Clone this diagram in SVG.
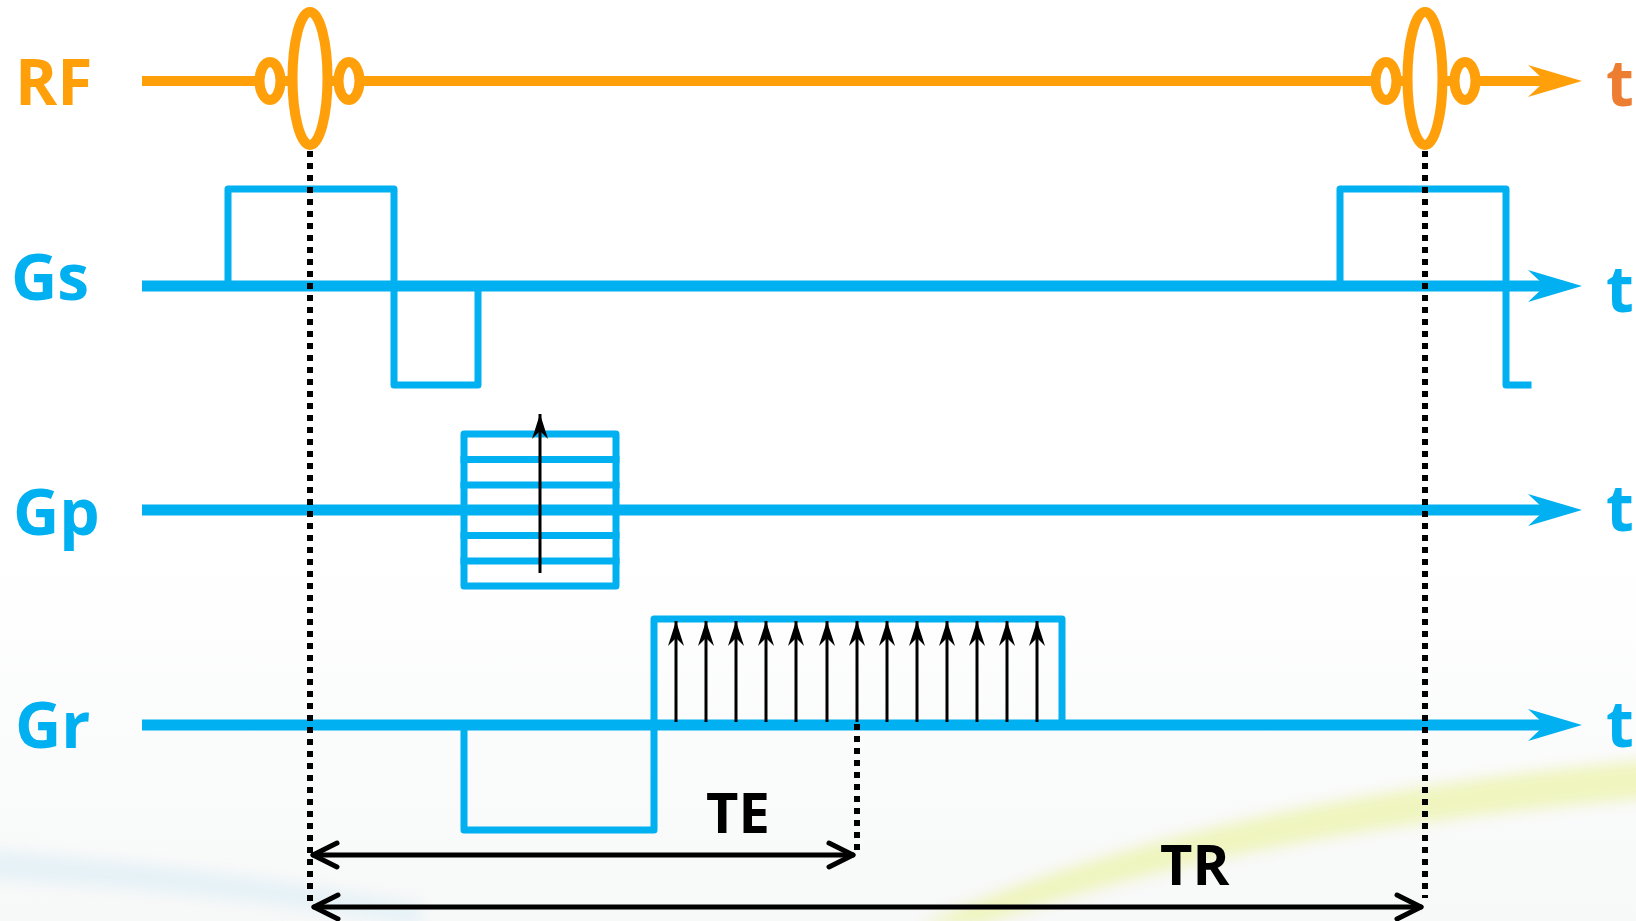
<svg xmlns="http://www.w3.org/2000/svg" xmlns:xlink="http://www.w3.org/1999/xlink" width="1636" height="921" viewBox="0 0 1636 921">
  <style>
    .lbl { font-family: "Open Sans", "Noto Sans", "Liberation Sans", sans-serif; font-weight: 700; font-size: 64px; }
    .dim { font-family: "Open Sans", "Noto Sans", "Liberation Sans", sans-serif; font-weight: 700; font-size: 56px; fill: #000; }
    .orange { fill: #FFA00A; }
    .tOrange { fill: #ED7D31; }
    .blue { fill: #00B0F0; }
    .axisO { stroke: #FFA00A; stroke-width: 10; fill: none; }
    .axisB { stroke: #00B0F0; stroke-width: 11; fill: none; }
    .pulse { stroke: #00B0F0; stroke-width: 7; fill: none; stroke-linejoin: round; stroke-linecap: square; }
    .rfpulse { stroke: #FFA00A; stroke-width: 10; fill: #fff; }
    .dot { stroke: #000; stroke-width: 6; stroke-dasharray: 6 6; fill: none; }
    .kline { stroke: #000; stroke-width: 3; fill: none; }
    .span { stroke: #000; stroke-width: 5; fill: none; stroke-linecap: round; stroke-linejoin: round; }
  </style>
  <defs>
    <!-- notched arrowhead for the time axes, tip at origin -->
    <path id="axisHead" d="M-54,-16 L0,0 L-54,16 L-37,0 Z"/>
    <marker id="kHead" markerUnits="userSpaceOnUse" markerWidth="26" markerHeight="18" viewBox="-25 -9 26 18" refX="0" refY="0" orient="auto">
      <path d="M-25,-8 L0,0 L-25,8 L-17,0 Z" fill="#000"/>
    </marker>
    <filter id="soft" x="-20%" y="-50%" width="140%" height="200%">
      <feGaussianBlur stdDeviation="7"/>
    </filter>
    <linearGradient id="bg" x1="0" y1="0" x2="0" y2="1">
      <stop offset="0" stop-color="#FFFFFF"/>
      <stop offset="0.6" stop-color="#FFFFFF"/>
      <stop offset="1" stop-color="#F7F8F8"/>
    </linearGradient>
  </defs>

  <!-- page background with faint swooshes -->
  <rect x="0" y="0" width="1636" height="921" fill="url(#bg)"/>
  <g filter="url(#soft)">
    <path d="M-20,850 Q200,865 420,905 L420,925 Q200,890 -20,878 Z" fill="#E3F1F6" opacity="0.9"/>
    <path d="M920,925 Q1200,800 1650,760 L1650,798 Q1250,830 980,925 Z" fill="#EEF4B8" opacity="0.9"/>
  </g>

  <!-- RF row -->
  <g id="row-rf">
    <text class="lbl orange" x="15" y="105">RF</text>
    <line class="axisO" x1="142" y1="81" x2="1550" y2="81"/>
    <use xlink:href="#axisHead" x="1582" y="81" class="orange"/>
    <ellipse class="rfpulse" cx="270" cy="81" rx="10.5" ry="19"/>
    <ellipse class="rfpulse" cx="349" cy="81" rx="10.5" ry="19"/>
    <ellipse class="rfpulse" cx="310" cy="78.5" rx="17.5" ry="66.5"/>
    <ellipse class="rfpulse" cx="1386" cy="81" rx="10.5" ry="19"/>
    <ellipse class="rfpulse" cx="1465" cy="81" rx="10.5" ry="19"/>
    <ellipse class="rfpulse" cx="1425" cy="78.5" rx="17.5" ry="66.5"/>
    <text class="lbl tOrange" x="1606" y="106">t</text>
  </g>

  <!-- Gs row: slice-select gradient -->
  <g id="row-gs">
    <text class="lbl blue" x="11" y="300">Gs</text>
    <line class="axisB" x1="142" y1="286" x2="1550" y2="286"/>
    <use xlink:href="#axisHead" x="1582" y="286" class="blue"/>
    <path class="pulse" d="M228,286 V189 H394 V385 H478 V286"/>
    <path class="pulse" d="M1340,286 V189 H1506 V385 H1528"/>
    <text class="lbl blue" x="1606" y="312">t</text>
  </g>

  <!-- Gp row: phase-encoding table -->
  <g id="row-gp">
    <text class="lbl blue" x="13" y="535">Gp</text>
    <line class="axisB" x1="142" y1="510" x2="1550" y2="510"/>
    <use xlink:href="#axisHead" x="1582" y="510" class="blue"/>
    <rect class="pulse" x="464" y="434" width="152" height="152"/>
    <path class="pulse" d="M464,459.5 H616 M464,485 H616 M464,535.5 H616 M464,561 H616"/>
    <line class="kline" x1="540" y1="573" x2="540" y2="414" marker-end="url(#kHead)"/>
    <text class="lbl blue" x="1606" y="531">t</text>
  </g>

  <!-- Gr row: readout gradient with sampling -->
  <g id="row-gr">
    <text class="lbl blue" x="15" y="748">Gr</text>
    <line class="axisB" x1="142" y1="725" x2="1550" y2="725"/>
    <use xlink:href="#axisHead" x="1582" y="725" class="blue"/>
    <path class="pulse" d="M464,725 V830 H654 V619 H1062 V725"/>
    <g id="samples">
      <line class="kline" x1="676" y1="722" x2="676" y2="621" marker-end="url(#kHead)"/>
      <line class="kline" x1="706" y1="722" x2="706" y2="621" marker-end="url(#kHead)"/>
      <line class="kline" x1="736" y1="722" x2="736" y2="621" marker-end="url(#kHead)"/>
      <line class="kline" x1="766" y1="722" x2="766" y2="621" marker-end="url(#kHead)"/>
      <line class="kline" x1="796" y1="722" x2="796" y2="621" marker-end="url(#kHead)"/>
      <line class="kline" x1="827" y1="722" x2="827" y2="621" marker-end="url(#kHead)"/>
      <line class="kline" x1="857" y1="722" x2="857" y2="621" marker-end="url(#kHead)"/>
      <line class="kline" x1="887" y1="722" x2="887" y2="621" marker-end="url(#kHead)"/>
      <line class="kline" x1="917" y1="722" x2="917" y2="621" marker-end="url(#kHead)"/>
      <line class="kline" x1="947" y1="722" x2="947" y2="621" marker-end="url(#kHead)"/>
      <line class="kline" x1="977" y1="722" x2="977" y2="621" marker-end="url(#kHead)"/>
      <line class="kline" x1="1007" y1="722" x2="1007" y2="621" marker-end="url(#kHead)"/>
      <line class="kline" x1="1037" y1="722" x2="1037" y2="621" marker-end="url(#kHead)"/>
    </g>
    <text class="lbl blue" x="1606" y="747">t</text>
  </g>

  <!-- timing guides and TE / TR spans -->
  <g id="connectors">
    <line class="dot" x1="310" y1="151" x2="310" y2="902"/>
    <line class="dot" x1="1425" y1="151" x2="1425" y2="898"/>
    <line class="dot" x1="857" y1="724" x2="857" y2="856"/>
    <line class="span" x1="313" y1="855" x2="853" y2="855"/>
    <polyline class="span" points="337,843 313,855 337,867"/>
    <polyline class="span" points="829,843 853,855 829,867"/>
    <line class="span" x1="314" y1="907" x2="1421" y2="907"/>
    <polyline class="span" points="338,895 314,907 338,919"/>
    <polyline class="span" points="1397,895 1421,907 1397,919"/>
  </g>

  <g id="label-te"><text class="dim" x="706" y="833">TE</text></g>
  <g id="label-tr"><text class="dim" x="1160" y="885">TR</text></g>
</svg>
